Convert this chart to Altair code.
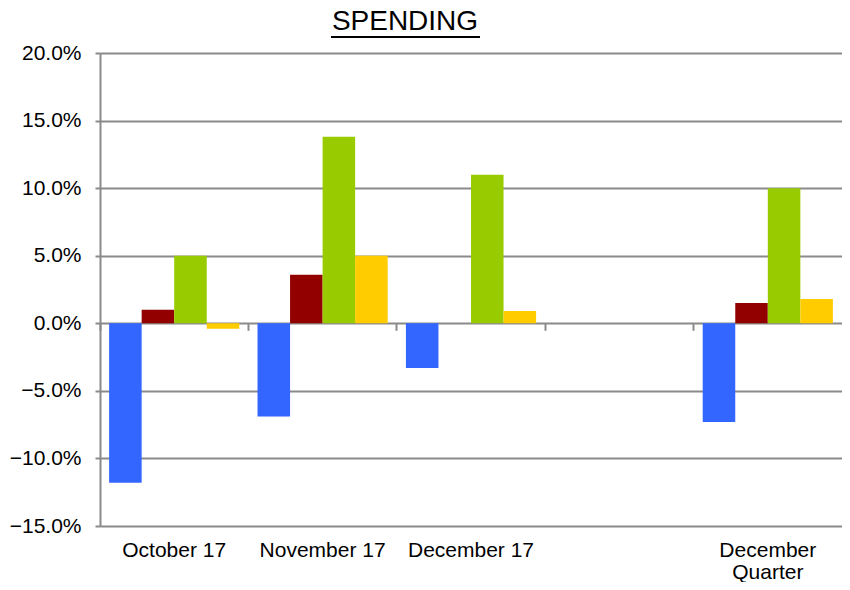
import altair as alt
import pandas as pd

categories = ["October 17", "November 17", "December 17", " ", "December Quarter"]
series = ["Series 1", "Series 2", "Series 3", "Series 4"]
blue = [-0.118, -0.069, -0.033, None, -0.073]
red = [0.010, 0.036, 0.0, None, 0.015]
green = [0.050, 0.138, 0.110, None, 0.100]
yellow = [-0.004, 0.050, 0.009, None, 0.018]
colors = ["#3366FF", "#930000", "#99CC00", "#FFCC00"]
y_ticks = [-0.15, -0.10, -0.05, 0.0, 0.05, 0.10, 0.15, 0.20]
title_text = ["SPENDING"]

rows = []
for s, vals in zip(series, [blue, red, green, yellow]):
    for c, v in zip(categories, vals):
        if v is not None:
            rows.append({"category": c, "series": s, "value": v})
df = pd.DataFrame(rows)
cat_df = pd.DataFrame({"category": categories})

FONT = "Liberation Sans"
GRID = "#8a8a8a"
H = 473
W = 742

x_scale = alt.Scale(domain=categories, paddingInner=0, paddingOuter=0)

bars = alt.Chart(df).mark_bar().encode(
    x=alt.X(
        "category:N",
        sort=categories,
        scale=x_scale,
        axis=alt.Axis(
            title=None, ticks=False, domain=False, grid=False, labelAngle=0,
            labelFont=FONT, labelFontSize=21, labelColor="black",
            labelPadding=13, labelLineHeight=22,
            labelExpr="datum.label == 'December Quarter' ? ['December', 'Quarter'] : datum.label",
        ),
    ),
    xOffset=alt.XOffset("series:N", sort=series,
                        scale=alt.Scale(paddingOuter=0.28, paddingInner=0)),
    y=alt.Y(
        "value:Q",
        scale=alt.Scale(domain=[-0.15, 0.20], nice=False),
        axis=alt.Axis(
            title=None, values=y_ticks, format=".1%", grid=True,
            gridColor=GRID, gridWidth=2, domainColor=GRID, domainWidth=2,
            tickColor=GRID, tickWidth=2, tickSize=5, labelPadding=14,
            labelFont=FONT, labelFontSize=21, labelColor="black",
        ),
    ),
    color=alt.Color("series:N", sort=series,
                    scale=alt.Scale(domain=series, range=colors), legend=None),
)

# category separator ticks hanging below the zero line
zero_ticks = alt.Chart(cat_df).mark_point(opacity=0).encode(
    x=alt.X(
        "category:N",
        sort=categories,
        scale=x_scale,
        axis=alt.Axis(
            orient="top", title=None, labels=False, domain=False, grid=False,
            ticks=True, bandPosition=0, offset=-(H * 0.2 / 0.35 + 7),
            tickSize=7, tickColor=GRID, tickWidth=2,
        ),
    ),
)

title = alt.Chart(pd.DataFrame({"t": title_text})).mark_text(
    font=FONT, fontSize=28, color="black", align="center", baseline="alphabetic"
).encode(text="t:N", x=alt.value(305), y=alt.value(-23))

underline = alt.Chart(pd.DataFrame({"a": [0]})).mark_rule(color="black", strokeWidth=2).encode(
    x=alt.value(231), x2=alt.value(380), y=alt.value(-16)
)

chart = alt.layer(bars, zero_ticks, title, underline).resolve_axis(x="independent").properties(
    width=W,
    height=H,
    autosize=alt.AutoSizeParams(type="none"),
    padding={"left": 92, "top": 45, "right": 0, "bottom": 56},
).configure_view(stroke=None)

chart.save("out.html", embed_options={"renderer": "svg", "actions": False})
